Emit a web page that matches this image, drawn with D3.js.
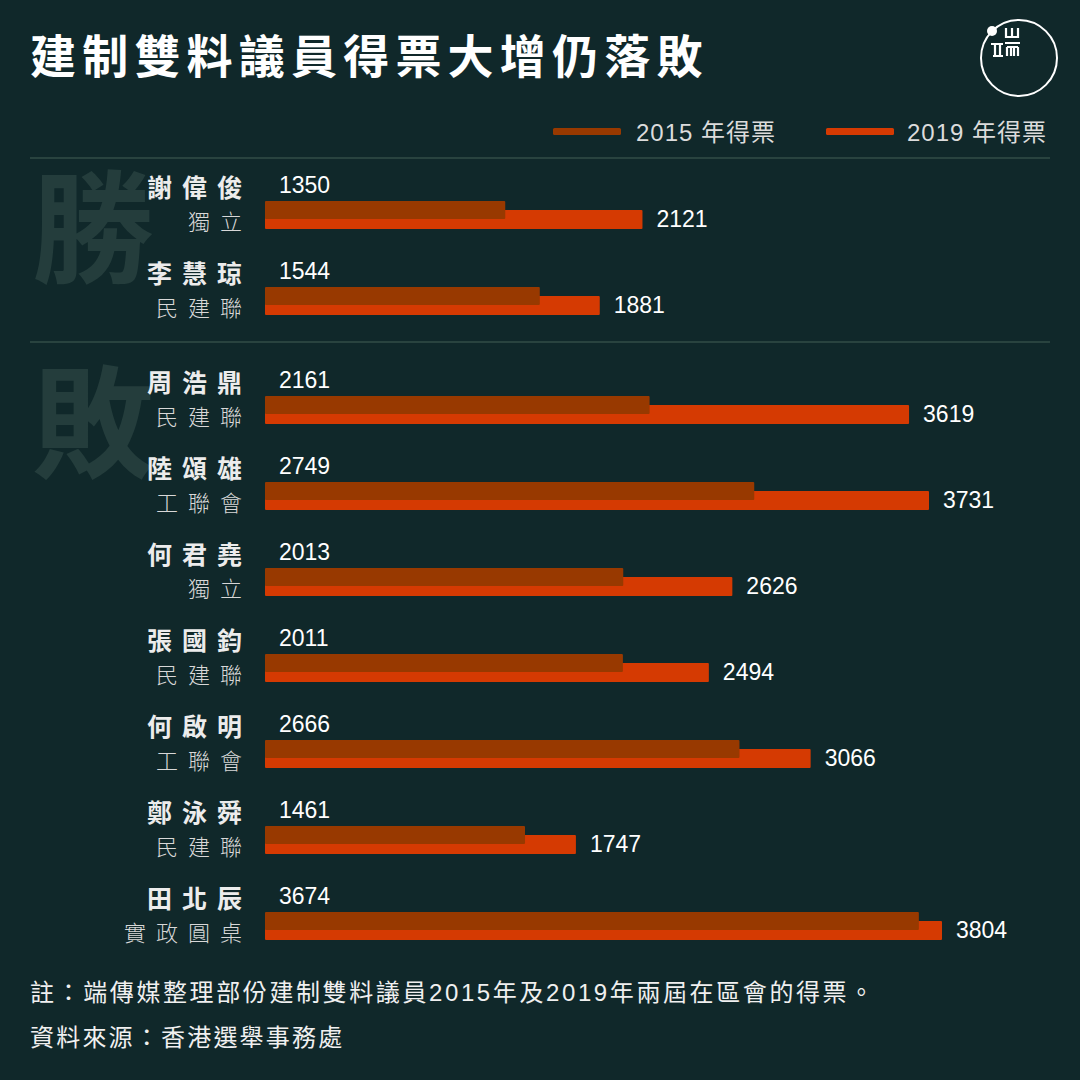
<!DOCTYPE html>
<html>
<head>
<meta charset="utf-8">
<script src="https://cdn.jsdelivr.net/npm/d3@7/dist/d3.min.js"></script>
<style>
  html, body { margin: 0; padding: 0; background: #10282a; }
  svg { display: block; }
  text { font-family: "Liberation Sans", "Noto Sans CJK TC", sans-serif; }
</style>
</head>
<body>
<svg id="chart"></svg>
<script>
// Data
const names = ['謝偉俊', '李慧琼', '周浩鼎', '陸頌雄', '何君堯', '張國鈞', '何啟明', '鄭泳舜', '田北辰'];
const parties = ['獨立', '民建聯', '民建聯', '工聯會', '獨立', '民建聯', '工聯會', '民建聯', '實政圓桌'];
const results = ['勝', '勝', '敗', '敗', '敗', '敗', '敗', '敗', '敗'];
const votes2015 = [1350, 1544, 2161, 2749, 2013, 2011, 2666, 1461, 3674];
const votes2019 = [2121, 1881, 3619, 3731, 2626, 2494, 3066, 1747, 3804];
const seriesLabels = ['2015 年得票', '2019 年得票'];

const W = 1080, H = 1080;
const C15 = '#983900', C19 = '#d53a02';
const BG = '#10282a', GRID = '#29433f';

const svg = d3.select('#chart').attr('width', W).attr('height', H);
svg.append('rect').attr('width', W).attr('height', H).attr('fill', BG);

// title
svg.append('text')
  .attr('x', 30).attr('y', 73)
  .attr('fill', '#ffffff')
  .attr('font-size', 46).attr('font-weight', 'bold')
  .attr('letter-spacing', 6.2)
  .attr('font-family', '"Noto Sans CJK TC", sans-serif')
  .text('建制雙料議員得票大增仍落敗');

// logo
const logo = svg.append('g').attr('stroke', '#fff').attr('fill', 'none');
logo.append('circle').attr('cx', 1019).attr('cy', 58).attr('r', 38).attr('stroke-width', 2);
logo.append('circle').attr('cx', 992).attr('cy', 31).attr('r', 5).attr('fill', '#fff').attr('stroke', 'none');
logo.append('path').attr('stroke-width', 2.2)
  .attr('d', [
    'M991,44 H1003', 'M993,56 H1003', 'M995,44 V56', 'M1000,44 V56',
    'M1006,28 V37 H1018 V28', 'M1012,28 V37',
    'M1005,43 H1020', 'M1007,47 V56', 'M1018,47 V56', 'M1007,47 H1018',
    'M1011,47 V56', 'M1014,47 V56'
  ].join(' '));

// legend
const legend = svg.append('g');
[[553, C15, 636], [826, C19, 907]].forEach(([sx, c, tx], i) => {
  legend.append('rect').attr('x', sx).attr('y', 128).attr('width', 68).attr('height', 7)
    .attr('rx', 1.5).attr('fill', c);
  legend.append('text').attr('x', tx).attr('y', 141)
    .attr('fill', '#dcdcdc').attr('font-size', 24).attr('letter-spacing', 1)
    .text(seriesLabels[i]);
});

// scales
const x = d3.scaleLinear().domain([0, 3804]).range([265, 942]);
const rowIndex = d3.scaleLinear().domain([0, names.length - 1]).range([0, 86 * (names.length - 1)]);
const groupGap = 23;
const rowTop = i => 201 + rowIndex(i) + (results[i] === '敗' ? groupGap : 0);

// separators
[158, 342].forEach(yy => {
  svg.append('line').attr('x1', 30).attr('x2', 1050).attr('y1', yy).attr('y2', yy)
    .attr('stroke', GRID).attr('stroke-width', 2);
});

// big background characters
const groups = [
  { label: '勝', first: 0 },
  { label: '敗', first: 2 }
];
svg.selectAll('text.bg')
  .data(groups)
  .join('text')
  .attr('class', 'bg')
  .attr('x', 32)
  .attr('y', d => rowTop(d.first) + 72)
  .attr('fill', '#243d3c')
  .attr('font-size', 122)
  .attr('font-weight', 'bold')
  .attr('font-family', '"Noto Sans CJK TC", sans-serif')
  .text(d => d.label);

const rows = names.map((n, i) => ({ name: n, party: parties[i], v15: votes2015[i], v19: votes2019[i], i }));

const g = svg.append('g');
const row = g.selectAll('g.row')
  .data(rows)
  .join('g')
  .attr('class', 'row')
  .attr('transform', d => `translate(0,${rowTop(d.i)})`);

// names
row.append('text')
  .attr('x', 242 + 10).attr('y', -4)
  .attr('text-anchor', 'end')
  .attr('fill', '#ececec')
  .attr('font-size', 25).attr('font-weight', 'bold')
  .attr('letter-spacing', 10)
  .attr('font-family', '"Noto Sans CJK TC", sans-serif')
  .text(d => d.name);

// parties
row.append('text')
  .attr('x', 242 + 10).attr('y', 29)
  .attr('text-anchor', 'end')
  .attr('fill', '#d8d8d8')
  .attr('font-size', 22).attr('font-weight', 300)
  .attr('letter-spacing', 10)
  .attr('font-family', '"Noto Sans CJK TC", sans-serif')
  .text(d => d.party);

// 2019 bars (behind)
row.append('rect')
  .attr('x', x(0)).attr('y', 9)
  .attr('width', d => x(d.v19) - x(0)).attr('height', 19)
  .attr('rx', 1).attr('fill', C19);

// 2015 bars (front)
row.append('rect')
  .attr('x', x(0)).attr('y', 0)
  .attr('width', d => x(d.v15) - x(0)).attr('height', 18)
  .attr('rx', 1).attr('fill', C15);

// 2015 labels
row.append('text')
  .attr('x', 279).attr('y', -8)
  .attr('fill', '#ffffff').attr('font-size', 23)
  .text(d => d.v15);

// 2019 labels
row.append('text')
  .attr('x', d => x(d.v19) + 14).attr('y', 26)
  .attr('fill', '#ffffff').attr('font-size', 23)
  .text(d => d.v19);

// footnotes
svg.append('text')
  .attr('x', 30).attr('y', 1001)
  .attr('fill', '#f0f0f0').attr('font-size', 24).attr('letter-spacing', 2.6)
  .text('註：端傳媒整理部份建制雙料議員2015年及2019年兩屆在區會的得票。');
svg.append('text')
  .attr('x', 30).attr('y', 1046)
  .attr('fill', '#f0f0f0').attr('font-size', 24).attr('letter-spacing', 2.2)
  .text('資料來源：香港選舉事務處');
</script>
</body>
</html>
